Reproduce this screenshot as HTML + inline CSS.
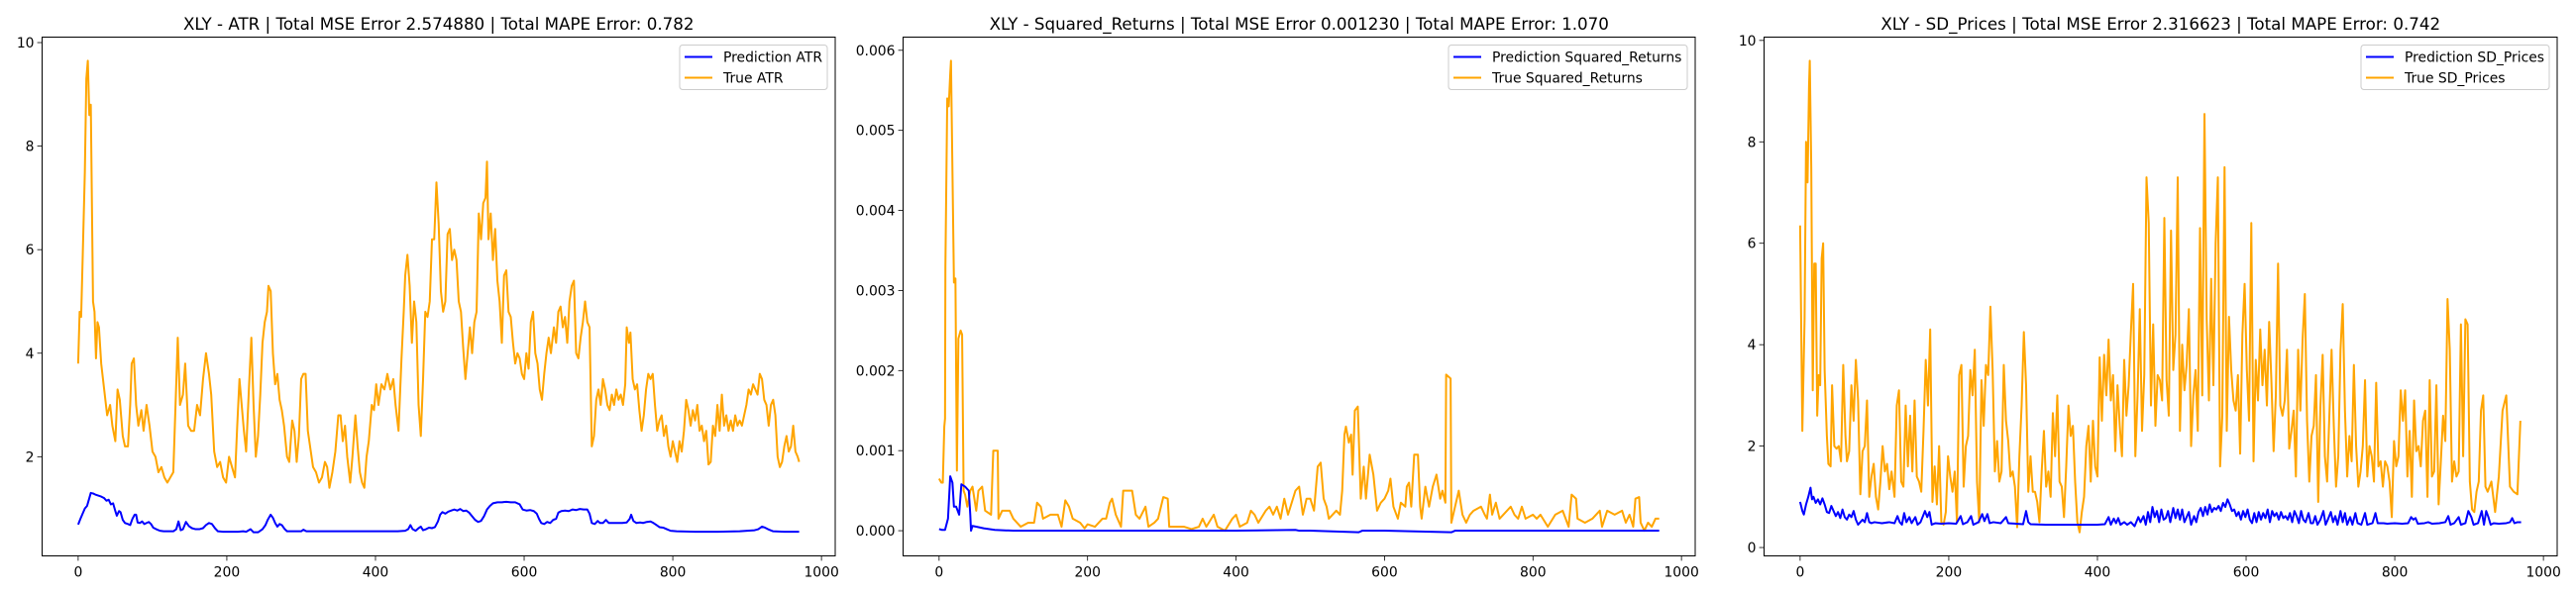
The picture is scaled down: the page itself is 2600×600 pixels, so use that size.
<!DOCTYPE html>
<html><head><meta charset="utf-8">
<style>
html,body{margin:0;padding:0;background:#fff;}
svg{display:block;font-family:"DejaVu Sans","Liberation Sans",sans-serif;}
</style></head>
<body>
<svg id="fig" width="2600" height="600" viewBox="0 0 2600 600" xmlns="http://www.w3.org/2000/svg">
<rect width="2600" height="600" fill="#fff"/>
</svg>
<script>
// ---------- Data ----------
const xTicks = [0,200,400,600,800,1000];
const xTickLabels = ["0","200","400","600","800","1000"];

const atrTicks = [2,4,6,8,10];
const atrTickLabels = ["2","4","6","8","10"];
const atrTrueX = [0,2,4,6,9,11,13,15,17,20,22,24,26,28,31,35,39,43,46,50,53,56,60,63,67,70,72,75,78,81,85,88,92,96,100,104,108,112,116,120,124,128,131,134,137,141,144,148,152,156,160,164,168,172,176,179,183,187,191,195,199,203,207,211,214,217,220,223,226,230,233,236,239,242,245,248,251,254,256,259,262,265,268,271,274,277,281,284,288,291,294,297,300,303,306,309,312,316,320,324,328,332,335,338,342,346,350,353,356,359,362,366,369,373,376,379,382,385,388,391,395,398,401,404,408,412,416,420,424,427,431,435,438,440,443,446,449,452,455,458,461,464,467,470,473,476,479,482,485,488,491,494,497,500,503,506,509,512,515,518,521,524,527,530,533,536,539,542,545,548,550,552,555,558,561,564,567,570,573,576,579,582,585,588,591,594,597,600,603,606,609,612,615,618,621,624,627,630,633,636,640,643,646,649,652,655,658,661,664,667,670,673,676,679,682,685,688,691,694,697,700,703,706,709,712,715,718,721,724,727,730,733,736,738,741,743,746,749,752,755,758,761,764,767,770,773,776,779,782,785,788,791,794,797,800,803,806,809,812,815,818,821,824,827,830,833,836,839,842,845,848,851,854,857,860,863,866,869,872,875,878,881,884,887,890,893,896,899,902,905,908,911,914,917,920,923,926,929,932,935,938,941,944,947,950,953,956,959,962,965,968,970];
const atrTrueY = [3.8,4.8,4.7,5.8,7.5,9.3,9.65,8.6,8.8,5.0,4.8,3.9,4.6,4.5,3.8,3.3,2.8,3.0,2.6,2.3,3.3,3.1,2.4,2.2,2.2,3.0,3.8,3.9,3.0,2.6,2.9,2.5,3.0,2.6,2.1,2.0,1.7,1.8,1.6,1.5,1.6,1.7,3.0,4.3,3.0,3.2,3.8,2.6,2.5,2.5,3.0,2.8,3.5,4.0,3.6,3.2,2.1,1.8,1.9,1.6,1.5,2.0,1.8,1.6,2.6,3.5,3.0,2.5,2.1,3.4,4.3,3.0,2.0,2.4,3.2,4.2,4.6,4.8,5.3,5.2,4.0,3.4,3.6,3.1,2.9,2.6,2.0,1.9,2.7,2.5,1.9,2.4,3.5,3.6,3.6,2.5,2.2,1.8,1.7,1.5,1.6,1.9,1.8,1.4,1.7,2.1,2.8,2.8,2.3,2.6,2.0,1.5,2.0,2.8,2.2,1.7,1.5,1.4,2.0,2.3,3.0,2.9,3.4,3.0,3.4,3.3,3.6,3.3,3.5,3.0,2.5,3.9,4.8,5.5,5.9,5.3,4.2,5.0,4.6,3.0,2.4,3.5,4.8,4.7,5.0,6.2,6.2,7.3,6.5,5.2,4.8,5.0,6.3,6.4,5.8,6.0,5.8,5.0,4.8,4.1,3.5,4.0,4.5,4.0,4.6,4.8,6.7,6.2,6.9,7.0,7.7,6.2,6.7,5.8,6.4,5.4,5.0,4.2,5.5,5.6,4.8,4.7,4.2,3.8,4.0,3.9,3.6,3.5,4.0,3.7,4.6,4.8,4.0,3.8,3.3,3.1,3.6,4.0,4.3,4.0,4.5,4.2,4.8,4.9,4.5,4.7,4.2,5.0,5.3,5.4,4.0,3.9,4.3,4.6,5.0,4.6,4.5,2.2,2.4,3.1,3.3,3.0,3.5,3.3,3.0,2.9,3.2,3.0,3.3,3.1,3.2,3.0,3.4,4.5,4.2,4.4,3.5,3.3,3.4,2.9,2.5,2.8,3.3,3.6,3.5,3.6,3.0,2.5,2.7,2.8,2.4,2.6,2.2,2.0,2.3,2.1,1.9,2.3,2.1,2.5,3.1,2.9,2.6,2.9,2.7,3.0,2.5,2.6,2.3,2.5,1.85,1.9,2.6,2.4,3.0,2.5,3.2,2.6,2.8,2.5,2.7,2.5,2.8,2.6,2.7,2.6,2.8,3.0,3.3,3.2,3.4,3.3,3.2,3.6,3.5,3.1,3.0,2.6,3.0,3.1,2.8,2.0,1.8,1.9,2.2,2.4,2.1,2.2,2.6,2.1,2.0,1.9];
const atrPredX = [0,3,6,9,12,15,17,20,23,27,31,35,38,41,44,47,50,52,55,57,60,63,67,70,73,76,78,80,83,86,89,92,95,98,101,105,110,115,120,128,132,135,138,141,145,149,153,158,163,168,172,176,180,184,188,195,205,215,222,226,232,236,242,248,252,255,259,262,265,268,271,274,278,281,290,300,303,307,320,350,380,410,430,440,444,447,450,454,458,461,464,468,472,476,480,484,487,490,494,498,502,506,510,514,518,522,526,530,534,538,542,546,550,554,558,564,570,576,582,588,594,598,603,608,613,617,620,623,627,631,635,639,643,646,650,655,660,665,670,675,680,685,688,691,695,699,702,706,710,714,720,726,732,738,742,744,747,751,756,760,765,770,774,778,782,787,792,797,805,830,860,890,910,915,920,924,928,935,950,970];
const atrPredY = [0.69,0.8,0.9,1.0,1.05,1.2,1.3,1.29,1.27,1.25,1.23,1.2,1.15,1.17,1.08,1.1,0.95,0.86,0.95,0.93,0.78,0.72,0.7,0.68,0.8,0.88,0.88,0.73,0.72,0.75,0.7,0.72,0.74,0.7,0.63,0.6,0.57,0.56,0.56,0.56,0.6,0.75,0.58,0.6,0.74,0.66,0.62,0.6,0.6,0.62,0.68,0.72,0.7,0.62,0.56,0.55,0.55,0.55,0.56,0.55,0.6,0.54,0.54,0.6,0.68,0.78,0.88,0.82,0.72,0.65,0.7,0.68,0.6,0.56,0.56,0.56,0.59,0.56,0.56,0.56,0.56,0.56,0.56,0.57,0.6,0.68,0.6,0.57,0.62,0.65,0.58,0.6,0.63,0.62,0.64,0.75,0.88,0.93,0.9,0.94,0.96,0.98,0.96,0.99,0.95,0.96,0.92,0.85,0.78,0.74,0.76,0.85,0.98,1.05,1.1,1.12,1.12,1.13,1.12,1.12,1.08,0.98,0.96,0.97,0.95,0.9,0.8,0.72,0.7,0.74,0.72,0.78,0.8,0.92,0.95,0.96,0.95,0.98,0.97,0.99,0.98,0.98,0.9,0.72,0.7,0.76,0.72,0.72,0.78,0.72,0.72,0.72,0.72,0.73,0.8,0.88,0.76,0.72,0.73,0.72,0.74,0.75,0.72,0.68,0.64,0.63,0.6,0.57,0.56,0.55,0.55,0.56,0.58,0.6,0.65,0.63,0.6,0.56,0.55,0.55];

const srTicks = [0,0.001,0.002,0.003,0.004,0.005,0.006];
const srTickLabels = ["0.000","0.001","0.002","0.003","0.004","0.005","0.006"];
const srTrueX = [0,3,5,7,8,8.5,11,13,15,16,20,22,24,26,29,31,33,35,38,42,45,50,53,58,62,70,73,79,80,85,95,100,110,120,128,132,137,140,150,160,165,170,175,180,190,196,200,210,220,225,230,233,238,245,248,260,265,270,278,282,290,295,302,308,310,330,340,350,355,360,370,375,385,395,400,405,415,420,425,430,440,445,450,455,460,465,470,480,485,490,495,500,505,510,514,518,522,525,530,535,540,543,546,548,552,555,557,560,564,568,572,575,580,585,590,595,600,605,608,612,618,622,628,630,633,636,640,645,648,650,655,660,665,670,675,678,682,683,689,690,695,700,705,710,715,720,730,735,738,742,745,750,755,760,770,775,780,785,790,800,805,810,820,830,840,848,852,858,860,870,880,890,893,900,910,920,925,930,935,938,943,945,950,955,960,965,970];
const srTrueY = [0.00065,0.0006,0.0006,0.0013,0.0014,0.0033,0.0054,0.0053,0.0057,0.00587,0.0031,0.00315,0.00075,0.0024,0.0025,0.00245,0.0005,0.00045,0.0003,0.0005,0.00055,0.00025,0.0005,0.00055,0.00025,0.0002,0.001,0.001,0.00015,0.00025,0.00025,0.00015,0.00005,0.0001,0.0001,0.00035,0.0003,0.00015,0.0002,0.0002,0.00005,0.00038,0.0003,0.00015,0.0001,0.00003,0.00008,0.00005,0.00015,0.00015,0.00035,0.0004,0.0002,0.00005,0.0005,0.0005,0.0002,0.00015,0.0003,0.00005,0.0001,0.00015,0.00042,0.0004,0.00005,0.00005,0.00002,0.00005,0.00015,0.00005,0.0002,0.00005,0.0,0.00015,0.0002,0.00005,0.0001,0.00025,0.0002,0.0001,0.00025,0.0003,0.0002,0.0003,0.00015,0.0004,0.0002,0.0005,0.00055,0.0002,0.0004,0.0004,0.00025,0.0008,0.00085,0.0004,0.0003,0.00015,0.0002,0.00025,0.0002,0.0005,0.0012,0.0013,0.0011,0.0012,0.0007,0.0015,0.00155,0.0004,0.0008,0.0004,0.00095,0.0007,0.00025,0.00035,0.0004,0.0005,0.00065,0.0003,0.00015,0.00035,0.0003,0.00055,0.0006,0.0003,0.00095,0.00095,0.0003,0.00015,0.00055,0.0003,0.00055,0.0007,0.0004,0.0005,0.00035,0.00195,0.0019,0.0001,0.0003,0.0005,0.0002,0.0001,0.0002,0.00025,0.0003,0.0002,0.00015,0.00045,0.0002,0.00035,0.00015,0.0002,0.0003,0.0002,0.00015,0.0003,0.00015,0.0002,0.00015,0.0002,0.00005,0.0002,0.00025,0.00005,0.00045,0.0004,0.00015,0.0001,0.00015,0.00025,0.00005,0.00025,0.0002,0.00025,0.0001,0.0002,0.00005,0.0004,0.00042,0.0001,0.0,0.0001,0.00005,0.00015,0.00015];
const srPredX = [0,4,8,12,15,18,20,23,27,30,35,40,42,43,45,50,60,75,100,200,300,400,480,485,500,565,570,600,690,695,800,900,970];
const srPredY = [0.00002,0.00001,0.00001,0.00015,0.00068,0.0006,0.0003,0.0003,0.0002,0.00058,0.00055,0.0005,0.0002,0.0,0.00006,0.00005,0.00003,0.00001,0.0,0.0,0.0,0.0,0.00001,0.0,0.0,-0.00002,0.0,0.0,-0.00002,0.0,0.0,0.0,0.0];

const sdTicks = [0,2,4,6,8,10];
const sdTickLabels = ["0","2","4","6","8","10"];
const sdTrueX = [0,3,6,8,10,12,13,15,17,19,21,23,25,27,29,31,33,36,38,41,43,46,49,52,55,58,61,63,66,69,72,75,78,81,84,87,90,93,96,99,102,105,108,111,114,117,120,123,127,130,133,136,139,142,145,148,151,154,157,160,163,166,169,172,175,178,181,184,187,190,193,196,199,202,205,208,211,214,217,220,223,226,229,232,235,238,241,244,247,250,253,256,259,262,265,268,271,274,277,280,283,286,289,292,295,298,301,304,307,310,313,316,319,322,325,328,331,334,337,340,343,346,349,352,355,358,361,364,367,370,373,376,379,382,385,388,391,394,397,400,403,406,409,412,415,418,421,424,427,430,433,436,439,442,445,448,451,454,457,460,463,466,469,472,475,478,481,484,487,490,493,496,499,502,505,508,511,514,517,520,523,526,529,532,535,538,541,544,547,550,553,556,559,562,565,568,571,574,577,580,583,586,589,592,595,598,601,604,607,610,613,616,619,622,625,628,631,634,637,640,643,646,649,652,655,658,661,664,667,670,673,676,679,682,685,688,691,694,697,700,703,706,709,712,715,718,721,724,727,730,733,736,739,742,745,748,751,754,757,760,763,766,769,772,775,778,781,784,787,790,793,796,799,802,805,808,811,814,817,820,823,826,829,832,835,838,841,844,847,850,853,856,859,862,865,868,871,874,877,880,883,886,889,892,895,898,901,904,907,910,913,916,919,922,925,930,935,940,945,950,955,960,965,969];
const sdTrueY = [6.35,2.3,4.5,8.0,7.2,9.1,9.6,7.5,3.1,5.6,5.6,2.6,3.4,3.2,5.7,6.0,3.5,2.2,1.65,1.6,3.2,2.0,1.95,2.0,1.7,3.6,2.2,1.7,1.9,3.2,2.5,3.7,2.9,1.05,1.9,2.0,2.9,1.0,1.4,1.65,1.0,0.75,1.3,2.0,1.5,1.65,1.15,1.5,1.0,2.8,3.1,1.3,1.2,2.8,1.6,2.6,1.5,2.9,1.4,1.3,1.1,2.3,3.7,2.8,4.3,0.9,1.6,0.85,2.0,0.5,0.45,0.7,1.8,1.4,1.1,1.5,0.5,3.4,3.6,1.2,2.0,2.2,3.5,3.0,3.9,1.3,0.5,3.3,2.4,3.6,3.4,4.75,3.5,1.5,2.1,1.3,1.5,3.6,2.5,2.1,1.4,1.5,1.2,0.4,1.8,2.8,4.25,3.2,1.1,1.8,1.1,1.1,0.9,0.5,1.5,2.3,1.2,1.5,1.0,2.65,1.8,3.0,1.3,1.2,0.6,1.6,2.8,2.2,2.4,1.3,0.5,0.3,0.7,1.0,2.0,2.4,1.3,2.5,1.6,1.4,3.75,2.5,3.8,3.0,4.1,2.9,3.4,1.9,3.2,2.4,1.8,3.7,2.6,3.2,4.25,5.2,1.8,3.0,4.7,2.3,3.4,7.3,6.4,2.8,4.4,2.4,3.4,3.3,2.9,6.5,3.3,2.6,6.25,3.5,4.2,7.3,2.3,4.0,3.1,3.6,4.7,2.0,3.0,3.5,2.3,6.3,3.0,8.55,4.5,2.9,5.3,3.2,6.0,7.3,1.6,2.6,7.5,2.3,4.55,3.5,2.9,2.7,3.4,1.85,4.2,5.2,3.5,2.5,6.4,1.7,3.7,2.9,4.3,3.2,3.9,2.8,4.45,3.3,1.9,3.0,5.6,2.8,2.6,2.9,3.9,1.95,2.3,2.7,1.4,3.9,2.7,4.1,5.0,2.5,1.3,2.2,2.4,3.4,0.9,2.8,3.8,1.8,1.3,2.6,3.9,2.4,1.2,1.8,3.9,4.8,2.7,1.4,2.2,1.7,3.6,2.0,1.2,1.5,2.0,3.3,1.4,2.0,1.8,1.3,3.25,1.6,1.7,1.2,1.7,1.6,1.3,0.6,2.1,1.6,1.8,3.1,2.5,3.1,1.4,2.3,1.0,2.9,1.9,2.0,1.6,2.5,2.7,1.0,3.3,1.4,1.5,3.2,0.85,1.7,2.6,2.1,4.9,3.9,1.3,1.7,1.4,1.5,4.4,1.8,4.5,4.4,1.3,0.75,0.7,1.1,1.3,2.7,3.0,1.2,1.1,1.3,0.7,1.4,2.7,3.0,1.2,1.1,1.05,2.5];
const sdPredX = [0,3,5,8,11,14,16,18,21,24,27,30,33,36,39,42,45,48,51,54,57,60,63,66,69,72,75,78,81,84,87,90,93,96,100,110,120,127,131,134,137,140,143,147,150,155,158,162,168,171,174,177,182,190,200,210,216,219,225,230,233,240,245,248,252,255,260,270,277,280,290,300,304,307,310,330,360,380,400,410,415,418,422,425,428,431,436,440,445,450,455,458,462,465,468,471,474,477,480,483,486,489,492,495,498,502,505,508,511,514,517,520,523,526,530,533,536,539,542,545,548,551,554,557,560,563,566,569,572,575,578,581,584,587,590,593,596,599,602,605,608,611,614,617,620,623,626,629,632,635,638,641,644,647,650,653,656,659,662,665,668,671,674,677,680,684,687,690,693,696,700,704,707,710,714,717,720,723,727,730,733,736,740,743,747,750,755,760,763,770,774,777,785,790,800,810,818,822,825,828,831,840,845,850,860,868,872,875,880,886,889,895,899,903,906,912,917,920,923,926,929,933,940,950,955,958,961,965,970];
const sdPredY = [0.9,0.72,0.65,0.85,1.0,1.18,0.95,1.0,0.88,0.95,0.85,0.97,0.85,0.7,0.68,0.82,0.72,0.62,0.7,0.58,0.75,0.6,0.55,0.65,0.6,0.72,0.55,0.45,0.5,0.55,0.5,0.68,0.5,0.48,0.5,0.48,0.5,0.48,0.62,0.5,0.45,0.68,0.5,0.6,0.48,0.6,0.45,0.5,0.72,0.6,0.7,0.45,0.48,0.47,0.48,0.47,0.62,0.46,0.5,0.62,0.45,0.5,0.66,0.52,0.66,0.48,0.5,0.48,0.6,0.48,0.47,0.46,0.72,0.5,0.46,0.45,0.45,0.45,0.45,0.46,0.6,0.45,0.57,0.48,0.58,0.45,0.5,0.45,0.5,0.42,0.6,0.5,0.62,0.45,0.7,0.5,0.8,0.6,0.72,0.5,0.75,0.55,0.58,0.72,0.5,0.78,0.58,0.75,0.55,0.75,0.5,0.6,0.7,0.45,0.62,0.5,0.7,0.78,0.62,0.8,0.65,0.85,0.7,0.78,0.75,0.82,0.72,0.88,0.8,0.95,0.85,0.72,0.75,0.62,0.7,0.55,0.72,0.6,0.75,0.55,0.48,0.68,0.5,0.7,0.55,0.68,0.58,0.75,0.5,0.72,0.62,0.68,0.55,0.7,0.58,0.62,0.55,0.68,0.5,0.72,0.62,0.48,0.72,0.55,0.5,0.68,0.48,0.48,0.62,0.45,0.55,0.72,0.45,0.55,0.7,0.5,0.62,0.45,0.72,0.5,0.68,0.45,0.6,0.45,0.68,0.48,0.45,0.68,0.45,0.48,0.68,0.48,0.48,0.47,0.48,0.47,0.48,0.6,0.55,0.58,0.47,0.48,0.5,0.47,0.48,0.5,0.62,0.45,0.48,0.6,0.45,0.48,0.72,0.6,0.45,0.48,0.72,0.45,0.72,0.6,0.45,0.48,0.47,0.48,0.5,0.58,0.48,0.5,0.5];

// ---------- Rendering ----------
const NS = "http://www.w3.org/2000/svg";
const svg = document.getElementById('fig');
const XMAX = 970;
function el(tag, attrs, parent){
  const e = document.createElementNS(NS, tag);
  for (const k in attrs) e.setAttribute(k, attrs[k]);
  (parent||svg).appendChild(e);
  return e;
}
function drawPanel(cfg){
  const g = el('g', {});
  
  
  const L=cfg.l, T=37.5, W=cfg.w, H=524;
  let mn=Infinity,mx=-Infinity;
  cfg.series.forEach(s=>s.y.forEach(v=>{if(v<mn)mn=v;if(v>mx)mx=v;}));
  const pad=(mx-mn)*0.05, y0=mn-pad, y1=mx+pad;
  const x0=-0.05*XMAX, x1=1.05*XMAX;
  const sx=v=>L+(v-x0)/(x1-x0)*W;
  const sy=v=>T+H-(v-y0)/(y1-y0)*H;
  const title = el('text', {x:L+W/2, y:30, 'text-anchor':'middle', 'font-size':'16.7', fill:'#000'}, g);
  title.textContent = cfg.title;
  
  
  const cid = cfg.name+'-clip';
  const cp = el('clipPath', {id:cid}, g);
  el('rect', {x:L, y:T, width:W, height:H}, cp);
  cfg.series.forEach(s=>{
    let d='';
    s.x.forEach((xv,i)=>{ d += (i?'L':'M') + sx(xv).toFixed(2) + ',' + sy(s.y[i]).toFixed(2); });
    const p = el('path', {d:d, fill:'none', stroke:s.color, 'stroke-width':'2', 'stroke-linejoin':'round', 'clip-path':'url(#'+cid+')'}, g);
    
    
  });
  const fr = el('rect', {x:L, y:T, width:W, height:H, fill:'none', stroke:'#000', 'stroke-width':'1'}, g);
  
  
  xTicks.forEach((t,i)=>{
    const x=sx(t);
    el('line', {x1:x, y1:T+H, x2:x, y2:T+H+4.9, stroke:'#000', 'stroke-width':'0.8'}, g);
    const tx = el('text', {x:x, y:T+H+21, 'text-anchor':'middle', 'font-size':'13.9', fill:'#000'}, g);
    tx.textContent = xTickLabels[i];
    
    
  });
  cfg.yTicks.forEach((t,i)=>{
    const y=sy(t);
    el('line', {x1:L-4.9, y1:y, x2:L, y2:y, stroke:'#000', 'stroke-width':'0.8'}, g);
    const ty = el('text', {x:L-8, y:y+5, 'text-anchor':'end', 'font-size':'13.9', fill:'#000'}, g);
    ty.textContent = cfg.yTickLabels[i];
    
    
  });
  const lw = cfg.legendW, lx = L+W-8-lw, ly = T+8;
  const lg = el('g', {}, g);
  
  
  el('rect', {x:lx, y:ly, width:lw, height:45, rx:3, fill:'#fff', 'fill-opacity':'0.8', stroke:'#ccc', 'stroke-width':'1'}, lg);
  const order=[cfg.series[1], cfg.series[0]];
  order.forEach((s,i)=>{
    const yy = ly+12+i*21;
    el('line', {x1:lx+5, y1:yy, x2:lx+33, y2:yy, stroke:s.color, 'stroke-width':'2'}, lg);
    const lt = el('text', {x:lx+44, y:yy+5, 'font-size':'13.9', fill:'#000'}, lg);
    lt.textContent = s.label;
    
    
  });
}
drawPanel({name:'atr-panel', l:42.5, w:800.5, title:'XLY - ATR | Total MSE Error 2.574880 | Total MAPE Error: 0.782',
  yTicks:atrTicks, yTickLabels:atrTickLabels, legendW:149,
  series:[{x:atrTrueX,y:atrTrueY,color:'#ffa500',label:'True ATR',dname:'true-atr-line'},
          {x:atrPredX,y:atrPredY,color:'#0000ff',label:'Prediction ATR',dname:'prediction-atr-line'}]});
drawPanel({name:'squared-returns-panel', l:911.5, w:799.5, title:'XLY - Squared_Returns | Total MSE Error 0.001230 | Total MAPE Error: 1.070',
  yTicks:srTicks, yTickLabels:srTickLabels, legendW:241,
  series:[{x:srTrueX,y:srTrueY,color:'#ffa500',label:'True Squared_Returns',dname:'true-squared-returns-line'},
          {x:srPredX,y:srPredY,color:'#0000ff',label:'Prediction Squared_Returns',dname:'prediction-squared-returns-line'}]});
drawPanel({name:'sd-prices-panel', l:1780.5, w:800.5, title:'XLY - SD_Prices | Total MSE Error 2.316623 | Total MAPE Error: 0.742',
  yTicks:sdTicks, yTickLabels:sdTickLabels, legendW:190,
  series:[{x:sdTrueX,y:sdTrueY,color:'#ffa500',label:'True SD_Prices',dname:'true-sd-prices-line'},
          {x:sdPredX,y:sdPredY,color:'#0000ff',label:'Prediction SD_Prices',dname:'prediction-sd-prices-line'}]});
</script>
</body></html>
